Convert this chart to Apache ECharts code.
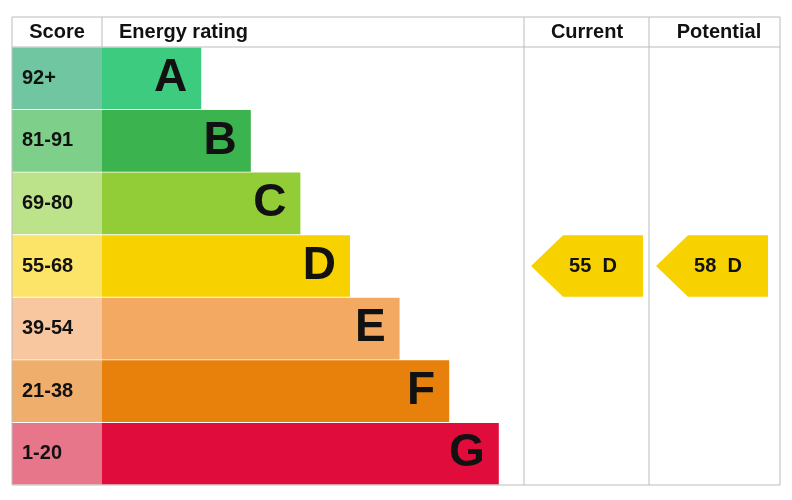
<!DOCTYPE html>
<html><head><meta charset="utf-8">
<script src="https://cdn.jsdelivr.net/npm/echarts@6/dist/echarts.min.js"></script>
<style>html,body{margin:0;padding:0;background:#fff}#c{width:792px;height:500px}</style>
</head><body><div id="c"></div>
<script>
const bands = ['A','B','C','D','E','F','G'];
const scores = ['92+','81-91','69-80','55-68','39-54','21-38','1-20'];
const barLengths = [2,3,4,5,6,7,8];
const barColors = ['#3dcc7f','#3bb34f','#92cd37','#f8d100','#f4a963','#e8800c','#e00c3b'];
const scoreColors = ['#6fc6a0','#7dcf8a','#bde38a','#fce468','#f8c7a0','#f0ae6c','#e8768b'];
const columns = ['Current','Potential'];
const ratings = [[0,'D',55],[1,'D',58]];

const chart = echarts.init(document.getElementById('c'));
const font = 'Liberation Sans, Arial, sans-serif';
const yAx = i => ({gridIndex:i,type:'category',data:bands,inverse:true,show:false});
chart.setOption({
  animation:false,
  grid:[
    {left:102,top:47,width:678,height:438},
    {left:12,top:47,width:90,height:438},
    {left:524,top:47,width:256,height:438}
  ],
  xAxis:[
    {gridIndex:0,type:'value',min:0,max:678/49.6,show:false},
    {gridIndex:1,type:'value',min:0,max:1,show:false},
    {gridIndex:2,type:'value',min:0,max:2.048,show:false}
  ],
  yAxis:[yAx(0),yAx(1),yAx(2)],
  series:[
    {type:'bar',xAxisIndex:0,yAxisIndex:0,barCategoryGap:'1.5%',
     data:barLengths.map((v,i)=>({value:v,itemStyle:{color:barColors[i]}})),
     label:{show:true,position:'insideRight',distance:14,formatter:p=>bands[p.dataIndex],
       fontFamily:font,fontWeight:'bold',fontSize:46,color:'#111'}},
    {type:'bar',xAxisIndex:1,yAxisIndex:1,barCategoryGap:'1.5%',
     data:scores.map((s,i)=>({value:1,itemStyle:{color:scoreColors[i]}})),
     label:{show:true,position:'insideLeft',distance:10,formatter:p=>scores[p.dataIndex],
       fontFamily:font,fontWeight:'bold',fontSize:20,color:'#111'}},
    {type:'custom',xAxisIndex:2,yAxisIndex:2,
     data:ratings.map(r=>[r[0],r[1],r[2]]),
     renderItem:(params,api)=>{
       const col=api.value(0), band=bands[api.value(1)]||api.value(1);
       const p0=api.coord([col,band]), p1=api.coord([col+1,band]);
       const h=api.size([0,1])[1]*0.985;
       const x0=p0[0]+7, x1=p1[0]-6, yc=p0[1], t=yc-h/2, b=yc+h/2, tip=x0+32;
       const bi=bands.indexOf(band);
       return {type:'group',children:[
         {type:'polygon',shape:{points:[[x0,yc],[tip,t],[x1,t],[x1,b],[tip,b]]},style:{fill:barColors[bi]}},
         {type:'text',style:{x:(x0+x1)/2+6,y:yc,text:api.value(2)+'  '+band,align:'center',verticalAlign:'middle',
           font:'bold 20px '+font,fill:'#111'}}
       ]};
     },
     encode:{x:0,y:1}
    }
  ],
  graphic:[
    {type:'rect',shape:{x:12,y:17,width:768,height:468},style:{fill:'none',stroke:'#bbb',lineWidth:1},z:10},
    {type:'line',shape:{x1:12,y1:47,x2:780,y2:47},style:{stroke:'#bbb'},z:10},
    {type:'line',shape:{x1:102,y1:17,x2:102,y2:47},style:{stroke:'#bbb'},z:10},
    {type:'line',shape:{x1:524,y1:17,x2:524,y2:485},style:{stroke:'#bbb'},z:10},
    {type:'line',shape:{x1:649,y1:17,x2:649,y2:485},style:{stroke:'#bbb'},z:10},
    {type:'text',style:{x:57,y:32,text:'Score',align:'center',verticalAlign:'middle',font:'bold 20px '+font,fill:'#111'}},
    {type:'text',style:{x:119,y:32,text:'Energy rating',verticalAlign:'middle',font:'bold 20px '+font,fill:'#111'}},
    {type:'text',style:{x:587,y:32,text:columns[0],align:'center',verticalAlign:'middle',font:'bold 20px '+font,fill:'#111'}},
    {type:'text',style:{x:719,y:32,text:columns[1],align:'center',verticalAlign:'middle',font:'bold 20px '+font,fill:'#111'}}
  ]
});
</script></body></html>
